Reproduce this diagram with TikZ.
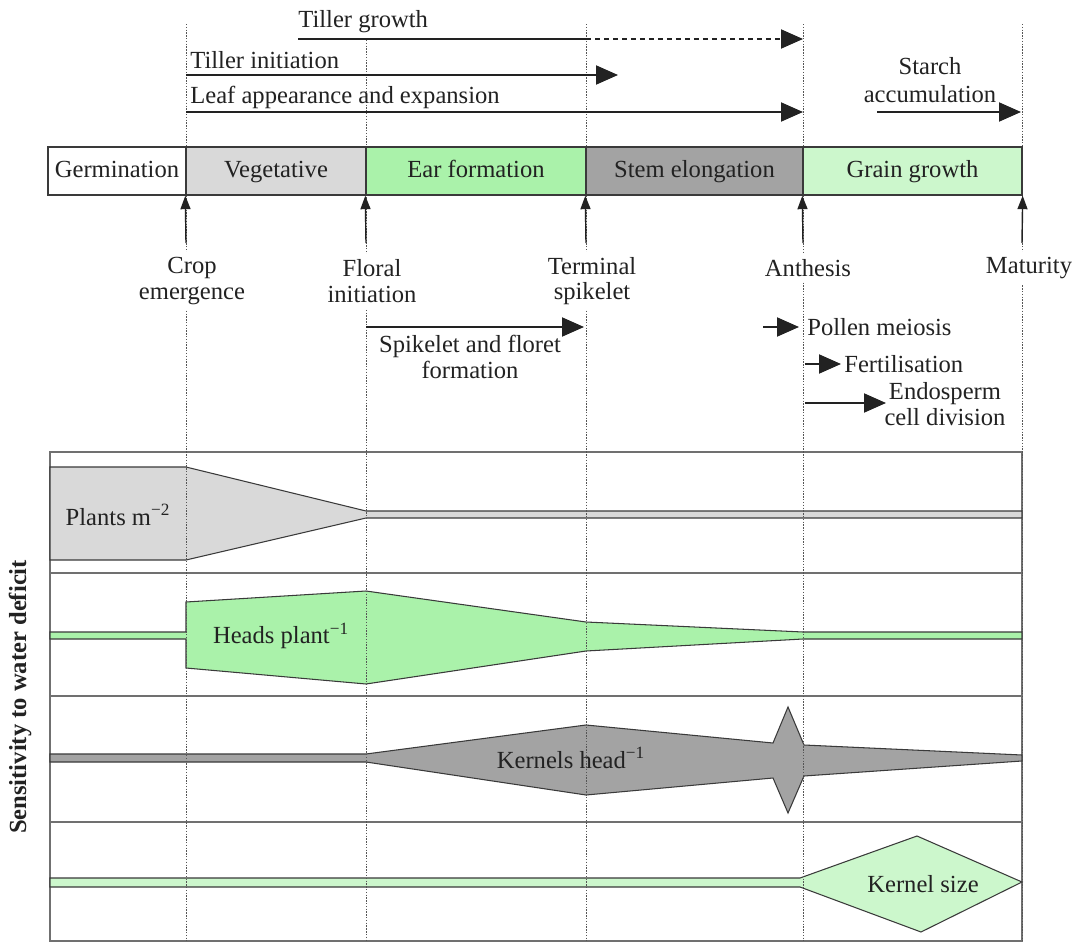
\documentclass[tikz,border=0pt]{standalone}
\usepackage{fontspec}
\setmainfont{Liberation Serif}
\usetikzlibrary{arrows.meta}
\definecolor{txt}{HTML}{222222}
\definecolor{edge}{HTML}{3A3A3A}
\definecolor{lgray}{HTML}{D9D9D9}
\definecolor{dgray}{HTML}{A3A3A3}
\definecolor{green1}{HTML}{AAF2AA}
\definecolor{green2}{HTML}{CCF7CC}
\definecolor{guidec}{HTML}{555555}
\definecolor{divc}{HTML}{707070}
\begin{document}
\begin{tikzpicture}[x=0.02cm,y=-0.02cm,
  lbl/.style={font=\rmfamily\fontsize{14}{15}\selectfont, text=txt, inner sep=0pt},
  evlbl/.style={font=\rmfamily\fontsize{14}{14.5}\selectfont, text=txt, align=center, fill=white, inner sep=3pt},
  stagebox/.style={draw=edge, line width=0.8pt, minimum height=0.96cm, inner sep=0pt,
     text height=10pt, text depth=3pt,
     font=\rmfamily\fontsize{14}{15}\selectfont, text=txt},
  proc/.style={line width=1.1pt, draw=txt, -{Triangle[length=0.44cm,width=0.38cm]}},
  evarrow/.style={line width=0.8pt, draw=txt, -{Triangle[length=0.27cm,width=0.2cm]}},
  guide/.style={draw=guidec, line width=0.55pt, dash pattern=on 0.8pt off 0.8pt},
  shapeline/.style={draw=edge, line width=0.6pt},
  divider/.style={draw=divc, line width=0.9pt}]

\fill[white] (0,0) rectangle (1079,943);
\useasboundingbox (0,0) rectangle (1079,943);

% ---------- lower panel ----------
\draw[divider] (50,452) rectangle (1022,941);
\draw[divider] (50,573) -- (1022,573);
\draw[divider] (50,696) -- (1022,696);
\draw[divider] (50,822) -- (1022,822);

\filldraw[fill=lgray, shapeline] (50,467) -- (186,467) -- (366,511) -- (1022,511) -- (1022,518)
  -- (366,518) -- (186,560) -- (50,560) -- cycle;
\filldraw[fill=green1, shapeline] (50,632) -- (186,632) -- (186,602) -- (366,591) -- (586,622)
  -- (803,632) -- (1022,632) -- (1022,639) -- (803,639) -- (586,651) -- (366,684) -- (186,668)
  -- (186,639) -- (50,639) -- cycle;
\filldraw[fill=dgray, shapeline] (50,754) -- (366,754) -- (586,725) -- (773,743) -- (788,707)
  -- (804,745) -- (1022,755) -- (1022,761) -- (804,776) -- (788,813) -- (773,778) -- (586,795)
  -- (366,762) -- (50,762) -- cycle;
\filldraw[fill=green2, shapeline] (50,878) -- (800,878) -- (917,836) -- (1022,882) -- (921,932)
  -- (800,887) -- (50,887) -- cycle;

% ---------- guides ----------
\draw[guide] (186,24) -- (186,941);
\draw[guide] (366,40) -- (366,941);
\draw[guide] (586,24) -- (586,941);
\draw[guide] (803,24) -- (803,941);
\draw[guide] (1022,24) -- (1022,941);

% ---------- panel labels ----------
\node[lbl] (plants) at (118,515) {Plants m\textsuperscript{−2}};
\node[lbl] (heads) at (281,636) {Heads plant\textsuperscript{−1}};
\node[lbl] (kernels) at (571,758) {Kernels head\textsuperscript{−1}};
\node[lbl] (ksize) at (923,884) {Kernel size};
\node[lbl, rotate=90, font=\rmfamily\fontsize{14}{15}\selectfont\bfseries] (sens) at (20,697) {Sensitivity to water deficit};

% ---------- stage bar ----------
\node[stagebox, fill=white, minimum width=2.76cm] (germ) at (117,171) {Germination};
\node[stagebox, fill=lgray, minimum width=3.6cm] (veg) at (276,171) {Vegetative};
\node[stagebox, fill=green1, minimum width=4.4cm] (ear) at (476,171) {Ear formation};
\node[stagebox, fill=dgray, minimum width=4.34cm] (stem) at (694.5,171) {Stem elongation};
\node[stagebox, fill=green2, minimum width=4.38cm] (grain) at (912.5,171) {Grain growth};

% ---------- event labels ----------
\node[evlbl] (crop) at (192,281) {Crop\\emergence};
\node[evlbl] (floral) at (372,281) {Floral\\initiation};
\node[evlbl] (term) at (592,281) {Terminal\\spikelet};
\node[evlbl] (anth) at (808,268) {Anthesis};
\node[evlbl] (mat) at (1029,268) {Maturity};

\coordinate (a1) at (186,243);
\coordinate (a2) at (366,243);
\coordinate (a3) at (586,243);
\coordinate (a4) at (803,243);
\coordinate (a5) at (1022,243);
\draw[evarrow] (a1) -- (veg.south west);
\draw[evarrow] (a2) -- (ear.south west);
\draw[evarrow] (a3) -- (stem.south west);
\draw[evarrow] (a4) -- (grain.south west);
\draw[evarrow] (a5) -- (grain.south east);

% ---------- top process arrows ----------
\node[lbl, anchor=base west] (tgl) at (298,28) {Tiller growth};
\node[lbl, anchor=base west] (til) at (190,69) {Tiller initiation};
\node[lbl, anchor=base west] (leafl) at (190,103) {Leaf appearance and expansion};
\node[lbl, align=center, font=\rmfamily\fontsize{14}{15.5}\selectfont] (starch) at (930,80) {Starch\\accumulation};

\coordinate (tg0) at (298,39);
\coordinate (tgm) at (586,39);
\coordinate (tg1) at (803,39);
\draw[line width=1.1pt, draw=txt] (tg0) -- (tgm);
\draw[proc, dash pattern=on 0.1cm off 0.08cm] (tgm) -- (tg1);

\coordinate (ti0) at (186,75);
\coordinate (ti1) at (618,75);
\draw[proc] (ti0) -- (ti1);

\coordinate (la0) at (186,112);
\coordinate (la1) at (803,112);
\draw[proc] (la0) -- (la1);

\coordinate (sa0) at (877,112);
\coordinate (sa1) at (1021,112);
\draw[proc] (sa0) -- (sa1);

% ---------- lower process arrows ----------
\node[lbl, align=center, font=\rmfamily\fontsize{14}{15}\selectfont] (spk) at (470,357) {Spikelet and floret\\formation};
\coordinate (sp0) at (366,327);
\coordinate (sp1) at (584,327);
\draw[proc] (sp0) -- (sp1);

\node[lbl, anchor=west, inner xsep=0.16cm] (pollen) at (799,327) {Pollen meiosis};
\coordinate (po0) at (763,327);
\draw[proc] (po0) -- (pollen.west);

\node[lbl, anchor=west, inner xsep=0.06cm] (fert) at (841,364) {Fertilisation};
\coordinate (fe0) at (805,364);
\draw[proc] (fe0) -- (fert.west);

\node[lbl, align=center, font=\rmfamily\fontsize{14}{14.5}\selectfont] (endo) at (945,404) {Endosperm\\cell division};
\coordinate (en0) at (805,403);
\coordinate (en1) at (886,403);
\draw[proc] (en0) -- (en1);

\end{tikzpicture}
\end{document}
